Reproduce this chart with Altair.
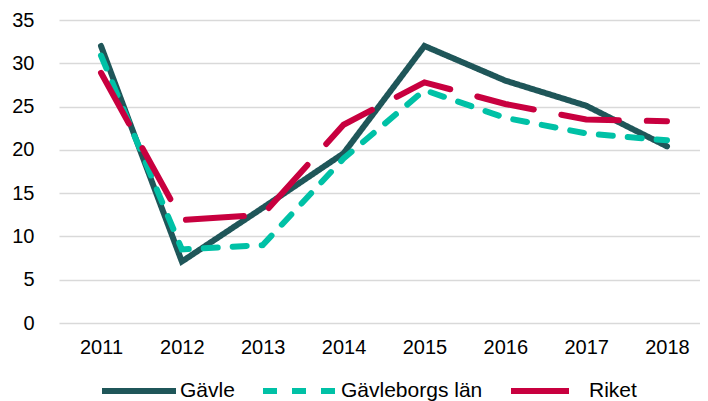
import altair as alt
import pandas as pd

years = ["2011", "2012", "2013", "2014", "2015", "2016", "2017", "2018"]
gavle = [32.0, 7.1, 13.3, 19.6, 32.0, 28.0, 25.1, 20.4]
gavleborg = [30.9, 8.5, 9.0, 19.0, 26.9, 23.7, 21.9, 21.1]
riket = [28.9, 11.9, 12.5, 22.9, 27.8, 25.3, 23.5, 23.3]
series = ["Gävle", "Gävleborgs län", "Riket"]
colors = ["#1F5659", "#00C1A6", "#C8003F"]
dashes = [[1, 0], [14, 15], [58, 28]]

rows = []
for name, vals in zip(series, [gavle, gavleborg, riket]):
    for y, v in zip(years, vals):
        rows.append({"year": y, "value": v, "series": name})
df = pd.DataFrame(rows)

font = "Liberation Sans"

chart = alt.Chart(df).mark_line(strokeWidth=6, strokeCap="round").encode(
    x=alt.X("year:O", sort=years,
            scale=alt.Scale(type="point", padding=0.4638, align=0.56),
            axis=alt.Axis(title=None, labelAngle=0, domain=False, ticks=False,
                          labelPadding=14, labelFontSize=20, labelFont=font,
                          labelColor="#000000", grid=False)),
    y=alt.Y("value:Q", scale=alt.Scale(domain=[0, 35], nice=False),
            axis=alt.Axis(title=None, values=[0, 5, 10, 15, 20, 25, 30, 35],
                          domain=False, ticks=False, labelPadding=25,
                          labelFontSize=20, labelFont=font, labelColor="#000000",
                          gridColor="#D9D9D9", gridWidth=1.3)),
    color=alt.Color("series:N", sort=series,
                    scale=alt.Scale(domain=series, range=colors),
                    legend=alt.Legend(title=None, orient="none", legendX=40, legendY=331,
                                      direction="horizontal", symbolType="stroke",
                                      symbolSize=5476, symbolStrokeWidth=6,
                                      labelFontSize=21, labelFont=font,
                                      labelColor="#000000", labelOffset=1,
                                      columnPadding=16, padding=0)),
    strokeDash=alt.StrokeDash("series:N", sort=series,
                              scale=alt.Scale(domain=series, range=dashes),
                              legend=None),
    order=alt.Order("year:O"),
).properties(
    width=641, height=303,
    padding={"left": 51, "top": 12, "right": 0, "bottom": 78},
    autosize=alt.AutoSizeParams(type="none"),
).configure_view(stroke=None)

chart.save("out.html", embed_options={"renderer": "svg", "actions": False})
